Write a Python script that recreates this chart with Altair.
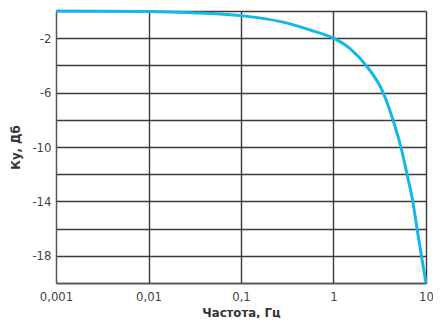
import altair as alt
import pandas as pd

freq = [0.001, 0.01, 0.03, 0.1, 0.276, 0.575, 1.0, 1.53, 2.25, 3.44, 4.39, 5.35, 6.24, 7.2, 8.0, 8.92, 10.0]
gain = [0.0, -0.03, -0.12, -0.34, -0.8, -1.42, -2.0, -2.8, -4.0, -6.0, -8.0, -10.0, -12.0, -14.0, -16.0, -18.0, -20.0]
x_ticks = [0.001, 0.01, 0.1, 1, 10]
y_ticks = list(range(-20, 1, 2))

df = pd.DataFrame({"f": freq, "g": gain})
FONT = "DejaVu Sans Condensed"

chart = alt.Chart(df).mark_line(color="#12b8e6", strokeWidth=3, interpolate="monotone", clip=False).encode(
    x=alt.X("f:Q", scale=alt.Scale(type="log", domain=[0.001, 10], nice=False),
            axis=alt.Axis(values=x_ticks, title="Частота, Гц",
                          labelExpr="replace(''+datum.value, '.', ',')",
                          labelFlush=False,
                          grid=True, gridColor="#3a3a3a", gridWidth=1.4,
                          gridOpacity={"condition": {"test": "datum.value == 0.001", "value": 0}, "value": 1},
                          ticks=False, domainColor="#555555", domainWidth=1.5,
                          labelFont=FONT, labelFontSize=13, labelColor="#444444", labelPadding=7,
                          titleFont=FONT, titleFontSize=13, titleFontWeight="bold", titleColor="#333333", titlePadding=3)),
    y=alt.Y("g:Q", scale=alt.Scale(domain=[-20, 0], nice=False, zero=False),
            axis=alt.Axis(values=y_ticks, title="Ку, Дб",
                          labelExpr="(datum.value+2)%4==0 ? ''+datum.value : ''",
                          grid=True, gridColor="#3a3a3a", gridWidth=1.4,
                          ticks=False, domainColor="#555555", domainWidth=1.5,
                          labelFont=FONT, labelFontSize=13, labelColor="#444444", labelPadding=5,
                          titleFont=FONT, titleFontSize=13, titleFontWeight="bold", titleColor="#333333", titlePadding=9)),
).properties(
    width=370, height=272,
    autosize=alt.AutoSizeParams(type="none"),
    padding={"left": 48, "top": 3, "right": 7, "bottom": 35},
).configure_view(stroke=None)

chart.save("out.html", embed_options={"renderer": "svg", "actions": False})
